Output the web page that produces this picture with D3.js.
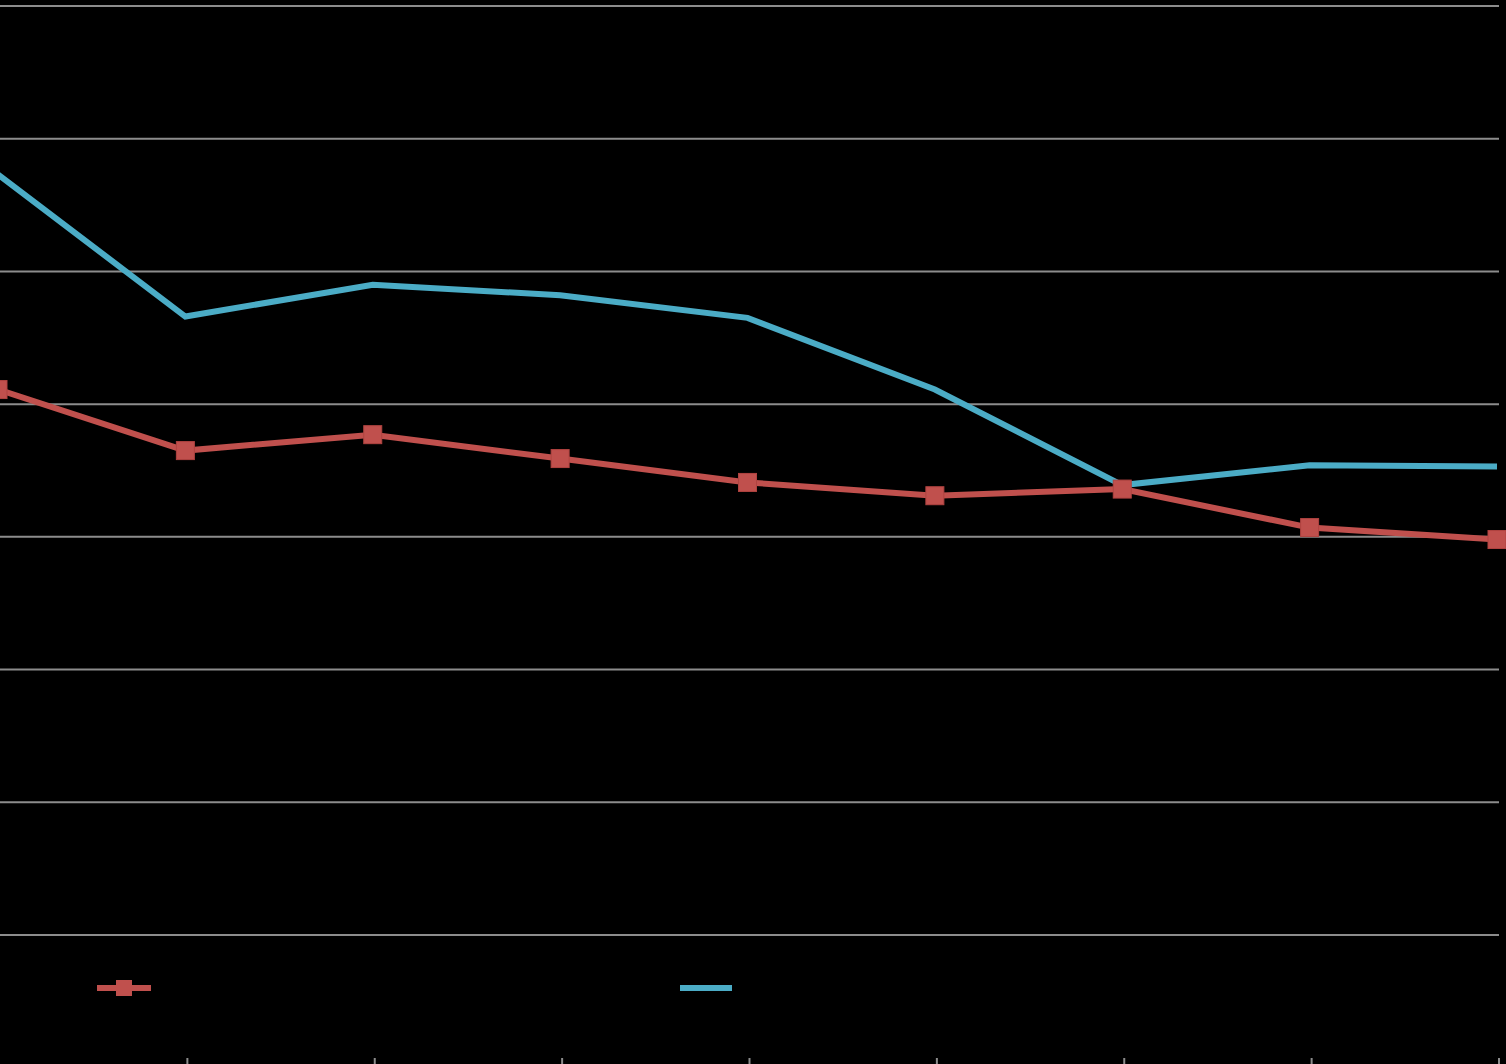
<!DOCTYPE html>
<html><head><meta charset="utf-8">
<script src="https://cdn.jsdelivr.net/npm/d3@7"></script>
<style>html,body{margin:0;background:#000;overflow:hidden}</style>
</head><body><svg id="c" width="1506" height="1064"></svg>
<script>
// values
const points = [0, 1, 2, 3, 4, 5, 6, 7, 8];
const redSeries = [4.11, 3.65, 3.77, 3.59, 3.41, 3.31, 3.36, 3.07, 2.98];
const blueSeries = [5.73, 4.66, 4.90, 4.82, 4.65, 4.11, 3.39, 3.54, 3.53];
const gridValues = [0, 1, 2, 3, 4, 5, 6, 7];

const svg = d3.select("#c");
const x = d3.scaleLinear().domain([0, 8]).range([-2, 1497]);
const y = d3.scaleLinear().domain([0, 7]).range([935, 6]);

// gridlines
svg.append("g").selectAll("line").data(gridValues).enter().append("line")
  .attr("x1", 0).attr("x2", 1499)
  .attr("y1", d => y(d)).attr("y2", d => y(d))
  .attr("stroke", "#8c8c8c").attr("stroke-width", 2);

// x axis ticks at bottom
svg.append("g").selectAll("line").data(points.slice(1)).enter().append("line")
  .attr("x1", d => x(d) + 2).attr("x2", d => x(d) + 2)
  .attr("y1", 1058).attr("y2", 1064)
  .attr("stroke", "#8c8c8c").attr("stroke-width", 2);

const line = d3.line().x((d, i) => x(points[i])).y(d => y(d));

svg.append("path").datum(blueSeries).attr("d", line)
  .attr("fill", "none").attr("stroke", "#4bacc6").attr("stroke-width", 6);

svg.append("path").datum(redSeries).attr("d", line)
  .attr("fill", "none").attr("stroke", "#c0504d").attr("stroke-width", 6);

svg.append("g").selectAll("rect").data(redSeries).enter().append("rect")
  .attr("x", (d, i) => x(points[i]) - 9).attr("y", d => y(d) - 9)
  .attr("width", 18).attr("height", 18)
  .attr("fill", "#c0504d").attr("stroke", "#b04340").attr("stroke-width", 1);

// legend
const leg = svg.append("g");
leg.append("line").attr("x1", 97).attr("x2", 151).attr("y1", 988).attr("y2", 988)
  .attr("stroke", "#c0504d").attr("stroke-width", 6);
leg.append("rect").attr("x", 116).attr("y", 980).attr("width", 16).attr("height", 16)
  .attr("fill", "#c0504d");
leg.append("line").attr("x1", 680).attr("x2", 732).attr("y1", 988).attr("y2", 988)
  .attr("stroke", "#4bacc6").attr("stroke-width", 6);
</script></body></html>
